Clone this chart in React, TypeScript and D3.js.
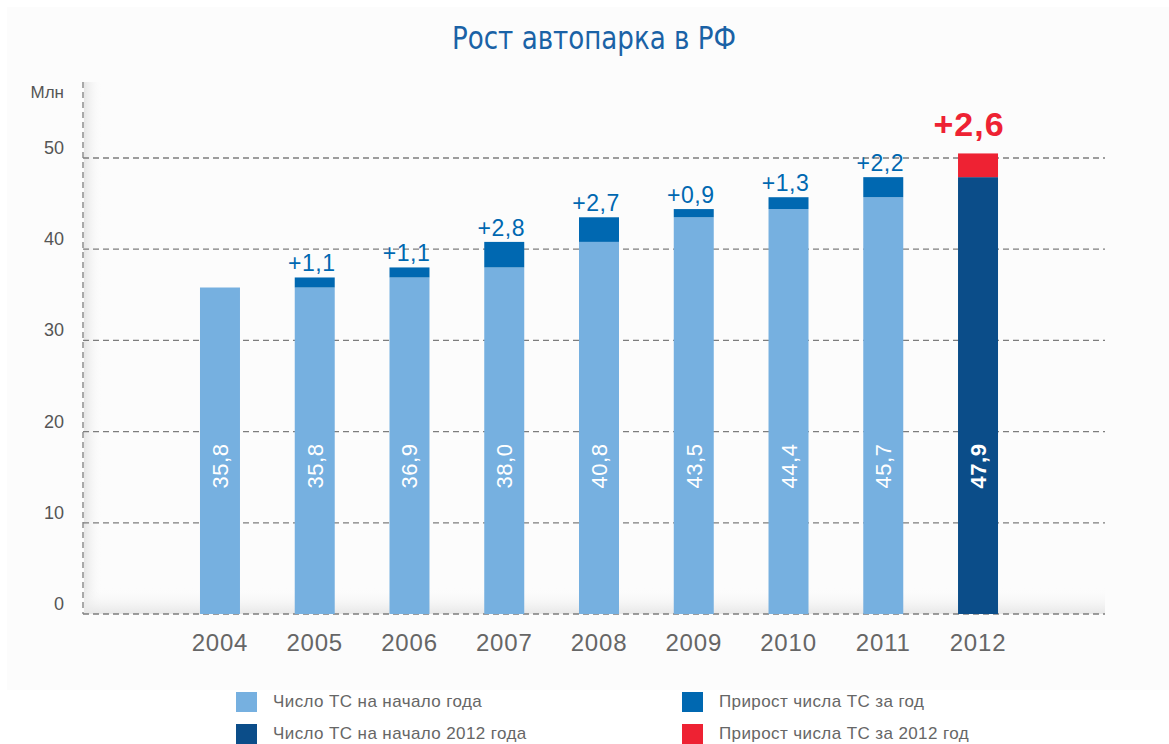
import React from "react";
import * as d3 from "d3";

const years = ["2004", "2005", "2006", "2007", "2008", "2009", "2010", "2011", "2012"];
const baseValues = [35.8, 35.8, 36.9, 38.0, 40.8, 43.5, 44.4, 45.7, 47.9];
const growthValues = [0, 1.1, 1.1, 2.8, 2.7, 0.9, 1.3, 2.2, 2.6];
const yTicks = [0, 10, 20, 30, 40, 50];
const legendItems = [
  "Число ТС на начало года",
  "Прирост числа ТС за год",
  "Число ТС на начало 2012 года",
  "Прирост числа ТС за 2012 год",
];

const W = 1169;
const H = 744;
const C_LIGHT = "#76b0e0";
const C_MID = "#0068b1";
const C_DARK = "#0b4d89";
const C_RED = "#ee2233";
const FONT = "'Liberation Sans', Arial, sans-serif";

const fmt = (v: number) => v.toFixed(1).replace(".", ",");

export default function App() {
  const x = d3
    .scaleBand<string>()
    .domain(years)
    .range([172.6, 1025.4])
    .paddingInner(0.578)
    .paddingOuter(0.289);
  const y = d3.scaleLinear().domain([0, 50]).range([614, 158]);
  const bw = x.bandwidth();
  const last = years.length - 1;
  const legendColors = [C_LIGHT, C_MID, C_DARK, C_RED];

  return (
    <svg
      width={W}
      height={H}
      style={{ position: "absolute", left: 0, top: 0, background: "#ffffff" }}
      fontFamily={FONT}
    >
      <defs>
        <linearGradient id="shadeL" x1="0" x2="1" y1="0" y2="0">
          <stop offset="0" stopColor="#e6e6e6" />
          <stop offset="1" stopColor="#fcfcfc" stopOpacity="0" />
        </linearGradient>
        <linearGradient id="shadeB" x1="0" x2="0" y1="1" y2="0">
          <stop offset="0" stopColor="#e6e6e6" />
          <stop offset="1" stopColor="#fcfcfc" stopOpacity="0" />
        </linearGradient>
      </defs>
      <rect x={7} y={7} width={W - 7} height={683} fill="#fcfcfc" />
      <rect x={84} y={82} width={18} height={532} fill="url(#shadeL)" />
      <rect x={84} y={588} width={1021} height={26} fill="url(#shadeB)" />

      <text
        x={594}
        y={49}
        textAnchor="middle"
        fontSize={32}
        fill="#1a62a6"
        textLength={284}
        lengthAdjust="spacingAndGlyphs"
        fontFamily="'Liberation Sans Narrow', 'DejaVu Sans Condensed', Roboto, sans-serif"
      >
        Рост автопарка в РФ
      </text>

      {/* grid */}
      {yTicks.map((t) => (
        <g key={t}>
          <line
            x1={83}
            x2={1105}
            y1={y(t)}
            y2={y(t)}
            stroke="#7d7d7d"
            strokeWidth={1.3}
            strokeDasharray="6,4"
          />
          <text x={64} y={y(t) - 4} textAnchor="end" fontSize={18} fill="#555">
            {t}
          </text>
        </g>
      ))}
      <line x1={83} x2={83} y1={82} y2={614} stroke="#7d7d7d" strokeWidth={1.3} strokeDasharray="6,4" />
      <text x={64} y={98} textAnchor="end" fontSize={17} fill="#555">
        Млн
      </text>

      {/* bars */}
      {years.map((yr, i) => {
        const x0 = x(yr)!;
        const cx = x0 + bw / 2;
        const base = baseValues[i];
        const g = growthValues[i];
        const isLast = i === last;
        return (
          <g key={yr}>
            <rect x={x0} y={y(base)} width={bw} height={y(0) - y(base)} fill={isLast ? C_DARK : C_LIGHT} />
            {g > 0 && (
              <rect
                x={x0}
                y={y(base + g)}
                width={bw}
                height={y(base) - y(base + g)}
                fill={isLast ? C_RED : C_MID}
              />
            )}
            {g > 0 && (
              <text
                x={isLast ? cx - 9 : cx - 3}
                y={y(base + g) - (isLast ? 17 : 6)}
                textAnchor="middle"
                fontSize={isLast ? 34 : 23}
                fontWeight={isLast ? "bold" : "normal"}
                letterSpacing={isLast ? 1 : 0.5}
                fill={isLast ? C_RED : C_MID}
              >
                {"+" + fmt(g)}
              </text>
            )}
            <text
              transform={`translate(${cx + 8},466) rotate(-90)`}
              textAnchor="middle"
              fontSize={22}
              fontWeight={isLast ? "bold" : "normal"}
              letterSpacing={0.5}
              fill="#ffffff"
            >
              {fmt(base)}
            </text>
            <text x={cx} y={651} textAnchor="middle" fontSize={24} letterSpacing={0.8} fill="#666">
              {yr}
            </text>
          </g>
        );
      })}

      {/* legend */}
      {legendItems.map((label, i) => {
        const col = i % 2;
        const row = Math.floor(i / 2);
        const sx = col === 0 ? 236 : 682;
        const sy = row === 0 ? 692 : 724;
        return (
          <g key={label}>
            <rect x={sx} y={sy} width={21} height={20} fill={legendColors[i]} />
            <text x={sx + 37} y={sy + 15} fontSize={17} letterSpacing={0.4} fill="#666">
              {label}
            </text>
          </g>
        );
      })}
    </svg>
  );
}
